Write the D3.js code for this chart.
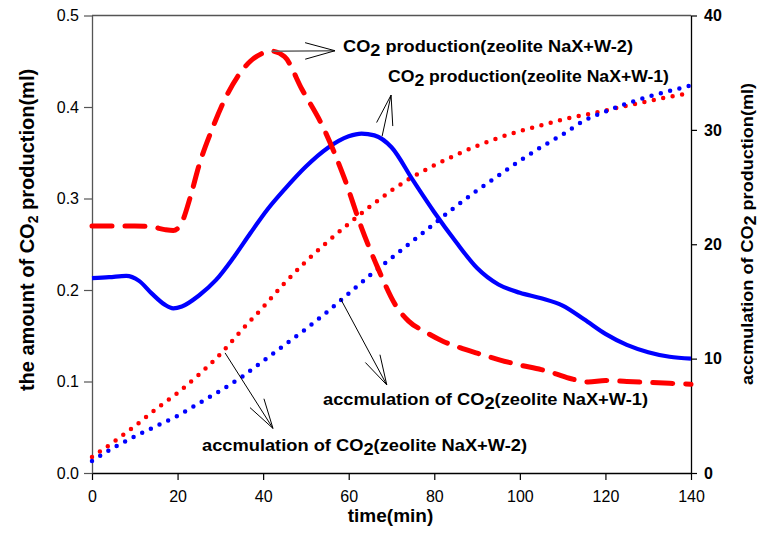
<!DOCTYPE html>
<html>
<head>
<meta charset="utf-8">
<script src="https://cdn.jsdelivr.net/npm/d3@7"></script>
<style>
  body { margin: 0; background: #fff; }
  svg text { font-family: "Liberation Sans", Arial, sans-serif; fill: #000; }
</style>
</head>
<body>
<div id="chart"></div>
<script>
// CO2 production rate (left axis, ml)
var prodW2Time = [0, 5, 10, 14, 17, 19, 21, 23, 25, 28, 31, 34, 37, 40, 42, 45, 49, 54, 59, 63, 67, 71, 74, 78, 82, 86, 90, 95, 100, 105, 108, 112, 116, 120, 125, 130, 135, 140];
var prodW2 = [0.27, 0.27, 0.27, 0.269, 0.266, 0.265, 0.274, 0.302, 0.336, 0.375, 0.408, 0.433, 0.45, 0.459, 0.461, 0.455, 0.42, 0.378, 0.322, 0.268, 0.222, 0.183, 0.166, 0.154, 0.144, 0.137, 0.131, 0.124, 0.118, 0.113, 0.109, 0.103, 0.0995, 0.1012, 0.1, 0.099, 0.098, 0.097];

var prodW1Time = [0, 4, 8, 11, 14, 17, 19, 21, 25, 29, 33, 37, 41, 45, 50, 55, 60, 63, 66, 70, 75, 80, 85, 90, 95, 100, 105, 110, 115, 120, 125, 130, 135, 140];
var prodW1 = [0.213, 0.214, 0.2155, 0.21, 0.196, 0.184, 0.18, 0.182, 0.194, 0.211, 0.235, 0.262, 0.288, 0.31, 0.335, 0.355, 0.368, 0.371, 0.369, 0.356, 0.32, 0.285, 0.253, 0.224, 0.206, 0.197, 0.191, 0.183, 0.168, 0.152, 0.14, 0.132, 0.127, 0.125];

// accumulation of CO2 (right axis, ml)
var accTime = [0, 5, 10, 15, 20, 25, 30, 35, 40, 45, 50, 55, 60, 65, 70, 75, 80, 85, 90, 95, 100, 105, 110, 115, 120, 125, 130, 135, 140];
var accW2 = [1.4, 2.7, 4.1, 5.6, 7.0, 8.6, 10.4, 12.5, 14.5, 16.6, 18.5, 20.2, 21.8, 23.3, 24.7, 25.9, 26.9, 27.8, 28.6, 29.3, 29.9, 30.4, 30.9, 31.3, 31.7, 32.1, 32.5, 32.9, 33.2];
var accW1 = [1.05, 2.2, 3.2, 4.1, 5.0, 6.1, 7.2, 8.4, 9.8, 11.2, 12.6, 14.1, 15.7, 17.3, 18.8, 20.3, 21.8, 23.3, 24.7, 26.0, 27.3, 28.5, 29.6, 30.8, 31.6, 32.3, 32.9, 33.4, 33.9];

var xTicks = [0, 20, 40, 60, 80, 100, 120, 140];
var yLeftTicks = [0.0, 0.1, 0.2, 0.3, 0.4, 0.5];
var yRightTicks = [0, 10, 20, 30, 40];

var width = 762;
var height = 555;
var plotLeft = 92, plotRight = 691, plotTop = 15.5, plotBottom = 473;

var svg = d3.select("#chart")
    .append("svg")
    .attr("width", width)
    .attr("height", height);

var x = d3.scaleLinear().domain([0, 140]).range([plotLeft, plotRight]);
var yL = d3.scaleLinear().domain([0, 0.5]).range([plotBottom, plotTop]);
var yR = d3.scaleLinear().domain([0, 40]).range([plotBottom, plotTop]);

// frame: top border
svg.append("line")
    .attr("x1", plotLeft).attr("x2", plotRight)
    .attr("y1", plotTop).attr("y2", plotTop)
    .attr("stroke", "#555").attr("stroke-width", 1.3);

// axes
var xAxis = svg.append("g")
    .attr("transform", "translate(0," + plotBottom + ")")
    .call(d3.axisBottom(x).tickValues(xTicks).tickSizeInner(7).tickSizeOuter(0).tickPadding(11).tickFormat(d3.format("d")));
xAxis.selectAll("text").style("font-size", "16px");

var yAxisL = svg.append("g")
    .attr("transform", "translate(" + plotLeft + ",0)")
    .call(d3.axisLeft(yL).tickValues(yLeftTicks).tickSizeInner(8).tickSizeOuter(0).tickPadding(5).tickFormat(d3.format(".1f")));
yAxisL.selectAll("text").style("font-size", "16px");
yAxisL.selectAll("line, path").attr("stroke", "#555");

var yAxisR = svg.append("g")
    .attr("transform", "translate(" + plotRight + ",0)")
    .call(d3.axisRight(yR).tickValues(yRightTicks).tickSizeInner(6).tickSizeOuter(0).tickPadding(7).tickFormat(d3.format("d")));
yAxisR.selectAll("text").style("font-size", "16px").style("font-weight", "bold");

svg.selectAll(".domain").attr("stroke-width", 1.3);
svg.selectAll(".tick line").attr("stroke-width", 1.2);
svg.selectAll(".tick text").attr("fill", "#000");

// lines
var lineL = d3.line()
    .x(function (d) { return x(d[0]); })
    .y(function (d) { return yL(d[1]); })
    .curve(d3.curveMonotoneX);

var lineR = d3.line()
    .x(function (d) { return x(d[0]); })
    .y(function (d) { return yR(d[1]); })
    .curve(d3.curveMonotoneX);

svg.append("path")
    .datum(d3.zip(accTime, accW2))
    .attr("d", lineR)
    .attr("fill", "none")
    .attr("stroke", "#ff0000")
    .attr("stroke-width", 4.5)
    .attr("stroke-linecap", "round")
    .attr("stroke-dasharray", "0,9.6");

svg.append("path")
    .datum(d3.zip(accTime, accW1))
    .attr("d", lineR)
    .attr("fill", "none")
    .attr("stroke", "#0000ff")
    .attr("stroke-width", 4.5)
    .attr("stroke-linecap", "round")
    .attr("stroke-dasharray", "0,9.6");

svg.append("path")
    .datum(d3.zip(prodW1Time, prodW1))
    .attr("d", lineL)
    .attr("fill", "none")
    .attr("stroke", "#0000ff")
    .attr("stroke-width", 4.2);

svg.append("path")
    .datum(d3.zip(prodW2Time, prodW2))
    .attr("d", lineL)
    .attr("fill", "none")
    .attr("stroke", "#ff0000")
    .attr("stroke-width", 5)
    .attr("stroke-linecap", "round")
    .attr("stroke-dasharray", "20,13");

// annotation arrows (open heads)
function arrow(x1, y1, x2, y2, colour, w) {
    var a = Math.atan2(y1 - y2, x1 - x2);
    var len = 31, spread = 0.27;
    svg.append("line")
        .attr("x1", x1).attr("y1", y1).attr("x2", x2).attr("y2", y2)
        .attr("stroke", colour).attr("stroke-width", w);
    [-spread, spread].forEach(function (s) {
        svg.append("line")
            .attr("x1", x2).attr("y1", y2)
            .attr("x2", x2 + len * Math.cos(a + s))
            .attr("y2", y2 + len * Math.sin(a + s))
            .attr("stroke", "#000").attr("stroke-width", 1);
    });
}

arrow(x(42), yL(0.461), x(56.8), yL(0.4615), "#666", 1.6);
arrow(x(67.8), yL(0.368), x(69.9), yL(0.413), "#000", 1);
arrow(x(58), yR(15.3), x(68.9), yR(7.7), "#000", 1);
arrow(x(31.1), yR(10.5), x(42.3), yR(3.9), "#000", 1);

// labels with CO2 subscript
function note(px, py, before, after, w) {
    var t = svg.append("text")
        .attr("x", px).attr("y", py)
        .style("font-size", "17px")
        .style("font-weight", "bold")
        .attr("textLength", w)
        .attr("lengthAdjust", "spacingAndGlyphs");
    t.append("tspan").text(before);
    t.append("tspan").attr("dy", 4).style("font-size", "17px").text("2");
    t.append("tspan").attr("dy", -4).text(after);
}

note(343, 52, "CO", " production(zeolite NaX+W-2)", 290);
note(388, 82, "CO", " production(zeolite NaX+W-1)", 281);
note(323, 405, "accmulation of CO", "(zeolite NaX+W-1)", 325);
note(202, 451, "accmulation of CO", "(zeolite NaX+W-2)", 325);

// axis titles
svg.append("text")
    .attr("x", (plotLeft + plotRight) / 2 - 1)
    .attr("y", 522)
    .attr("text-anchor", "middle")
    .style("font-size", "19px")
    .style("font-weight", "bold")
    .text("time(min)");

var lt = svg.append("text")
    .attr("transform", "translate(34,230) rotate(-90)")
    .attr("text-anchor", "middle")
    .style("font-size", "20px")
    .style("font-weight", "bold");
lt.append("tspan").text("the amount of CO");
lt.append("tspan").attr("dy", 4).style("font-size", "14px").text("2");
lt.append("tspan").attr("dy", -4).text(" production(ml)");

var rt = svg.append("text")
    .attr("transform", "translate(753,234) rotate(-90)")
    .attr("text-anchor", "middle")
    .style("font-size", "17px")
    .style("font-weight", "bold")
    .attr("textLength", 302)
    .attr("lengthAdjust", "spacingAndGlyphs");
rt.append("tspan").text("accmulation of CO");
rt.append("tspan").attr("dy", 3).style("font-size", "17px").text("2");
rt.append("tspan").attr("dy", -3).text(" production(ml)");
</script>
</body>
</html>
